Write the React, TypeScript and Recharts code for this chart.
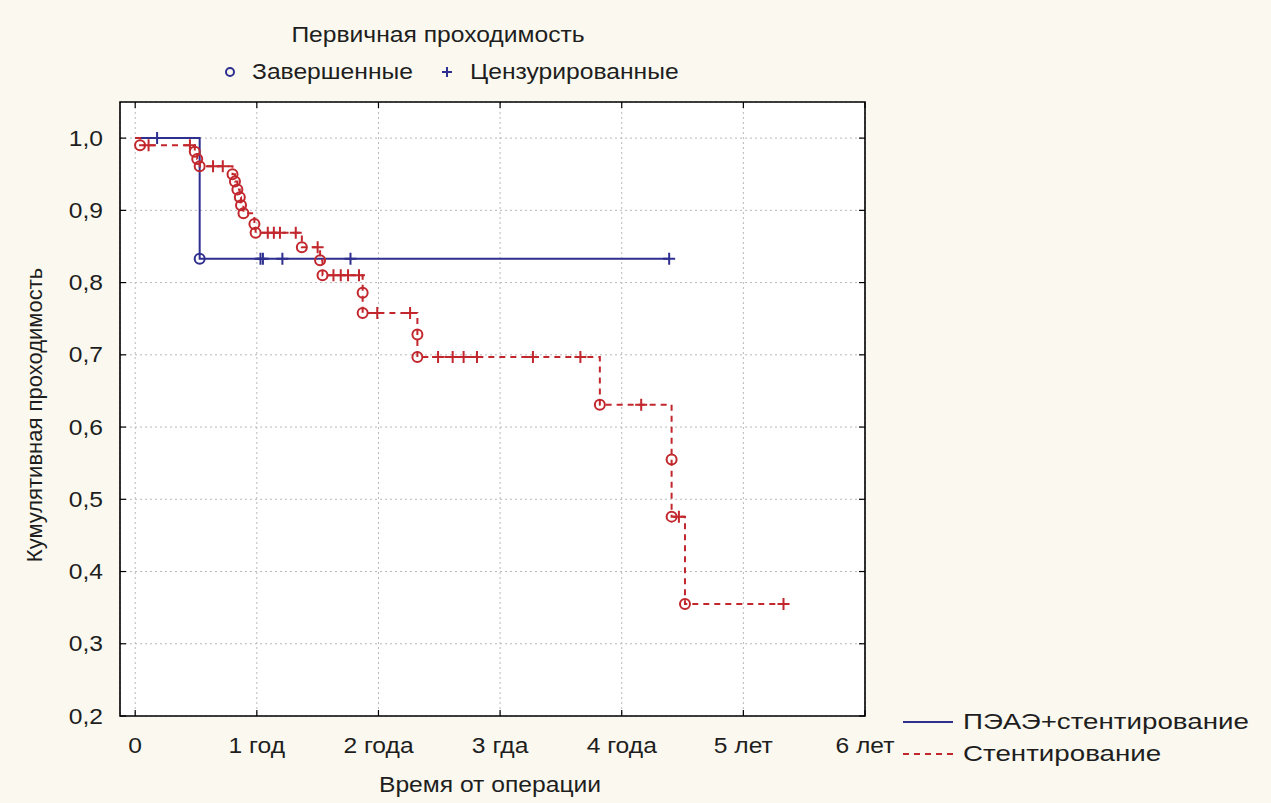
import React from 'react';
import { ComposedChart, Line, XAxis, YAxis, CartesianGrid, ReferenceArea } from 'recharts';

const W = 1271;
const H = 803;
const BG = '#fbf9ef';
const FONT = '"Liberation Sans", Arial, sans-serif';
const BLUE = '#2e2f8f';
const RED = '#c1272d';
const SX = 1.12; // the source picture is a bit stretched horizontally

const xTicks = [0, 1, 2, 3, 4, 5, 6];
const xTickLabels = ['0', '1 год', '2 года', '3 гда', '4 года', '5 лет', '6 лет'];
const yTicks = [0.2, 0.3, 0.4, 0.5, 0.6, 0.7, 0.8, 0.9, 1.0];

// [time in years, cumulative patency, mark]  s = start, o = completed, c = censored
const combSteps: [number, number, string][] = [
  [0, 1, 's'],
  [0.18, 1, 'c'],
  [0.53, 0.833, 'o'],
  [1.03, 0.833, 'c'],
  [1.05, 0.833, 'c'],
  [1.21, 0.833, 'c'],
  [1.77, 0.833, 'c'],
  [4.39, 0.833, 'c'],
];

const stentSteps: [number, number, string][] = [
  [0, 1, 's'],
  [0.04, 0.99, 'o'],
  [0.11, 0.99, 'c'],
  [0.45, 0.99, 'c'],
  [0.49, 0.981, 'o'],
  [0.51, 0.971, 'o'],
  [0.53, 0.961, 'o'],
  [0.64, 0.961, 'c'],
  [0.72, 0.961, 'c'],
  [0.8, 0.95, 'o'],
  [0.82, 0.94, 'o'],
  [0.84, 0.929, 'o'],
  [0.86, 0.918, 'o'],
  [0.87, 0.907, 'o'],
  [0.89, 0.896, 'o'],
  [0.98, 0.881, 'o'],
  [0.99, 0.869, 'o'],
  [1.09, 0.869, 'c'],
  [1.14, 0.869, 'c'],
  [1.19, 0.869, 'c'],
  [1.32, 0.869, 'c'],
  [1.37, 0.849, 'o'],
  [1.5, 0.849, 'c'],
  [1.52, 0.831, 'o'],
  [1.54, 0.81, 'o'],
  [1.63, 0.81, 'c'],
  [1.69, 0.81, 'c'],
  [1.75, 0.81, 'c'],
  [1.84, 0.81, 'c'],
  [1.87, 0.786, 'o'],
  [1.87, 0.758, 'o'],
  [1.99, 0.758, 'c'],
  [2.26, 0.758, 'c'],
  [2.32, 0.728, 'o'],
  [2.32, 0.697, 'o'],
  [2.49, 0.697, 'c'],
  [2.61, 0.697, 'c'],
  [2.7, 0.697, 'c'],
  [2.81, 0.697, 'c'],
  [3.27, 0.697, 'c'],
  [3.66, 0.697, 'c'],
  [3.82, 0.631, 'o'],
  [4.16, 0.631, 'c'],
  [4.41, 0.555, 'o'],
  [4.41, 0.476, 'o'],
  [4.47, 0.476, 'c'],
  [4.52, 0.355, 'o'],
  [5.33, 0.355, 'c'],
];

const toRows = (steps: [number, number, string][]) =>
  steps.map(([t, s, mark]) => ({ t, s, mark }));

const combData = toRows(combSteps);
const stentData = toRows(stentSteps);

function makeDot(color: string) {
  return (props: any) => {
    const { cx, cy, payload, index } = props;
    const key = `d-${color}-${index}`;
    if (payload.mark === 'o') {
      return <circle key={key} cx={cx} cy={cy} r={5} fill="none" stroke={color} strokeWidth={2} strokeDasharray="none" />;
    }
    if (payload.mark === 'c') {
      return (
        <path
          key={key}
          d={`M${cx - 6},${cy}H${cx + 6}M${cx},${cy - 6}V${cy + 6}`}
          stroke={color}
          strokeWidth={2}
          strokeDasharray="none"
          fill="none"
        />
      );
    }
    return <g key={key} />;
  };
}

const fmtY = (v: number) => v.toFixed(1).replace('.', ',');

const LeftTick = ({ x, y, payload }: any) => (
  <g>
    <line x1={x} x2={x + 6} y1={y} y2={y} stroke="#000" strokeWidth={1.2} />
    <text
      transform={`translate(${x - 17},${y}) scale(${SX},1)`}
      textAnchor="end"
      dominantBaseline="central"
      fontSize={22}
      fill="#1e1e1e"
    >
      {fmtY(payload.value)}
    </text>
  </g>
);

const RightTick = ({ x, y }: any) => (
  <line x1={x} x2={x - 6} y1={y} y2={y} stroke="#000" strokeWidth={1.2} />
);

const BottomTick = ({ x, y, payload }: any) => {
  const label = xTickLabels[xTicks.indexOf(payload.value)];
  return (
    <g>
      <line x1={x} x2={x} y1={y} y2={y - 6} stroke="#000" strokeWidth={1.2} />
      <text
        transform={`translate(${x},${y + 29}) scale(${SX},1)`}
        textAnchor="middle"
        dominantBaseline="central"
        fontSize={22}
        fill="#1e1e1e"
      >
        {label}
      </text>
    </g>
  );
};

const TopTick = ({ x, y }: any) => (
  <line x1={x} x2={x} y1={y} y2={y + 6} stroke="#000" strokeWidth={1.2} />
);

function Txt({ x, y, children, anchor = 'center', sx = SX }: any) {
  const style: React.CSSProperties = {
    position: 'absolute',
    left: x,
    top: y,
    fontSize: 22,
    lineHeight: 1,
    whiteSpace: 'nowrap',
    color: '#1e1e1e',
  };
  if (anchor === 'center') {
    style.transform = `translate(-50%,-50%) scaleX(${sx})`;
  } else {
    style.transformOrigin = 'left center';
    style.transform = `translateY(-50%) scaleX(${sx})`;
  }
  return <div style={style}>{children}</div>;
}

export default function App() {
  return (
    <div
      style={{
        position: 'absolute',
        left: 0,
        top: 0,
        width: W,
        height: H,
        background: BG,
        fontFamily: FONT,
        overflow: 'hidden',
      }}
    >
      <ComposedChart width={W} height={H} margin={{ top: 101, right: 405, bottom: 86, left: 119 }}>
        <CartesianGrid stroke="#b8b8b8" strokeDasharray="2 3" fill="#fff" />
        <XAxis
          type="number"
          dataKey="t"
          domain={[-0.125, 6]}
          ticks={xTicks}
          interval={0}
          allowDataOverflow
          height={1}
          tickSize={0}
          tickMargin={0}
          tickLine={false}
          axisLine={false}
          tick={<BottomTick />}
        />
        <XAxis
          xAxisId="top"
          orientation="top"
          type="number"
          dataKey="t"
          domain={[-0.125, 6]}
          ticks={xTicks}
          interval={0}
          allowDataOverflow
          height={1}
          tickSize={0}
          tickMargin={0}
          tickLine={false}
          axisLine={false}
          tick={<TopTick />}
        />
        <YAxis
          type="number"
          domain={[0.2, 1.05]}
          ticks={yTicks}
          interval={0}
          allowDataOverflow
          width={1}
          tickSize={0}
          tickMargin={0}
          tickLine={false}
          axisLine={false}
          tick={<LeftTick />}
        />
        <YAxis
          yAxisId="right"
          orientation="right"
          type="number"
          domain={[0.2, 1.05]}
          ticks={yTicks}
          interval={0}
          allowDataOverflow
          width={1}
          tickSize={0}
          tickMargin={0}
          tickLine={false}
          axisLine={false}
          tick={<RightTick />}
        />
        <ReferenceArea x1={-0.125} x2={6} y1={0.2} y2={1.05} fill="none" stroke="#000" strokeWidth={1.6} />
        <Line
          data={combData}
          dataKey="s"
          type="stepAfter"
          stroke={BLUE}
          strokeWidth={2}
          dot={makeDot(BLUE)}
          activeDot={false}
          isAnimationActive={false}
        />
        <Line
          data={stentData}
          dataKey="s"
          type="stepAfter"
          stroke={RED}
          strokeWidth={2}
          strokeDasharray="6 5"
          dot={makeDot(RED)}
          activeDot={false}
          isAnimationActive={false}
        />
      </ComposedChart>

      <Txt x={438} y={35}>Первичная проходимость</Txt>
      <svg style={{ position: 'absolute', left: 224, top: 66 }} width={12} height={12}>
        <circle cx={6} cy={6} r={4} fill="none" stroke={BLUE} strokeWidth={2} />
      </svg>
      <Txt x={252} y={72} anchor="left">Завершенные</Txt>
      <svg style={{ position: 'absolute', left: 441, top: 66 }} width={12} height={12}>
        <path d="M1,6H11M6,1V11" stroke={BLUE} strokeWidth={2} />
      </svg>
      <Txt x={470} y={72} anchor="left">Цензурированные</Txt>

      <Txt x={490} y={785}>Время от операции</Txt>
      <div
        style={{
          position: 'absolute',
          left: 35,
          top: 415,
          fontSize: 22,
          lineHeight: 1,
          whiteSpace: 'nowrap',
          color: '#1e1e1e',
          transform: 'translate(-50%,-50%) rotate(-90deg)',
        }}
      >
        Кумулятивная проходимость
      </div>

      <svg style={{ position: 'absolute', left: 903, top: 717 }} width={52} height={10}>
        <line x1={0} x2={50} y1={5} y2={5} stroke={BLUE} strokeWidth={2} />
      </svg>
      <Txt x={963} y={722} anchor="left" sx={1.26}>ПЭАЭ+стентирование</Txt>
      <svg style={{ position: 'absolute', left: 903, top: 749 }} width={52} height={10}>
        <line x1={0} x2={50} y1={5} y2={5} stroke={RED} strokeWidth={2} strokeDasharray="6 5" />
      </svg>
      <Txt x={963} y={754} anchor="left" sx={1.26}>Стентирование</Txt>
    </div>
  );
}
